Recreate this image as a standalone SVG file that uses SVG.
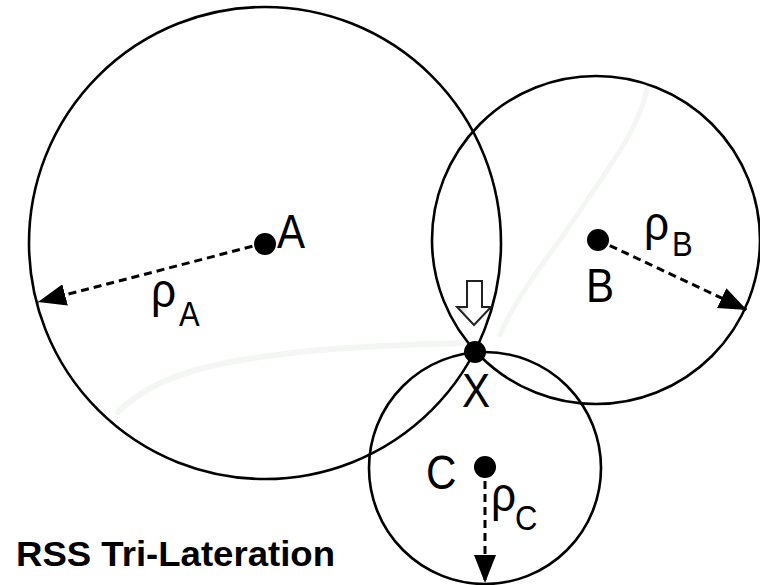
<svg xmlns="http://www.w3.org/2000/svg" width="760" height="585" viewBox="0 0 760 585">
  <style>
    .circ { fill: none; stroke: #000; stroke-width: 2.6; }
    .dot { fill: #000; }
    .lbl { font-family: "Liberation Sans", Arial, sans-serif; font-size: 49px; fill: #000; }
    .sub { font-family: "Liberation Sans", Arial, sans-serif; font-size: 36px; fill: #000; }
    .radius { stroke: #000; stroke-width: 3; stroke-dasharray: 8 5; fill: none; marker-end: url(#head); }
    .title { font-family: "Liberation Sans", Arial, sans-serif; font-size: 35px; font-weight: bold; fill: #000; }
    .streak { fill: none; stroke: #f4f6f4; stroke-linecap: round; }
  </style>
  <defs>
    <marker id="head" markerUnits="userSpaceOnUse" markerWidth="28" markerHeight="22" refX="28" refY="11" orient="auto">
      <path d="M0,0 L28,11 L0,22 Z" fill="#000"/>
    </marker>
    <linearGradient id="hollow" x1="0" y1="0" x2="1" y2="0">
      <stop offset="0" stop-color="#bdbdbd"/>
      <stop offset="0.35" stop-color="#ffffff"/>
      <stop offset="1" stop-color="#ffffff"/>
    </linearGradient>
  </defs>
  <rect width="760" height="585" fill="#fff"/>
  <g id="streaks">
    <path class="streak" stroke-width="5" d="M647,88 C640,130 600,180 560,240 C530,280 510,310 500,335"/>
    <path class="streak" stroke-width="6" d="M118,412 C160,370 230,360 300,352 C360,346 420,344 470,343"/>
  </g>
  <g id="circleA"><circle class="circ" cx="265" cy="243" r="236"/></g>
  <g id="circleB"><circle class="circ" cx="596" cy="240" r="164"/></g>
  <g id="circleC"><circle class="circ" cx="485" cy="468" r="116"/></g>
  <g id="connectors">
    <line class="radius" x1="265" y1="243" x2="38" y2="302"/>
    <line class="radius" x1="598" y1="240" x2="747" y2="310"/>
    <line class="radius" x1="485" y1="468" x2="485" y2="583"/>
    <polygon points="467,281 482,281 482,307 491,307 474,325 457,307 467,307" fill="url(#hollow)" stroke="#222" stroke-width="2" stroke-linejoin="miter"/>
  </g>
  <g id="nodeA">
    <circle class="dot" cx="265" cy="244" r="11"/>
    <text class="lbl" transform="translate(277,248) scale(0.86,1)">A</text>
  </g>
  <g id="nodeB">
    <circle class="dot" cx="598" cy="240" r="11"/>
    <text class="lbl" transform="translate(586,302) scale(0.86,1)">B</text>
  </g>
  <g id="nodeC">
    <circle class="dot" cx="485" cy="467" r="11"/>
    <text class="lbl" transform="translate(426,489) scale(0.86,1)">C</text>
  </g>
  <g id="nodeX">
    <circle class="dot" cx="475" cy="352" r="11"/>
    <text class="lbl" transform="translate(462,407) scale(0.86,1)">X</text>
  </g>
  <g id="radiusLabels">
    <text class="lbl" transform="translate(151,307) scale(0.9,1)">ρ</text>
    <text class="sub" transform="translate(179,326) scale(0.86,1)">A</text>
    <text class="lbl" transform="translate(644,240) scale(0.9,1)">ρ</text>
    <text class="sub" transform="translate(672,256) scale(0.86,1)">B</text>
    <text class="lbl" transform="translate(491,511) scale(0.9,1)">ρ</text>
    <text class="sub" transform="translate(515,530) scale(0.86,1)">C</text>
  </g>
  <g id="title">
    <text class="title" x="16" y="566" textLength="319" lengthAdjust="spacingAndGlyphs">RSS Tri-Lateration</text>
  </g>
</svg>
